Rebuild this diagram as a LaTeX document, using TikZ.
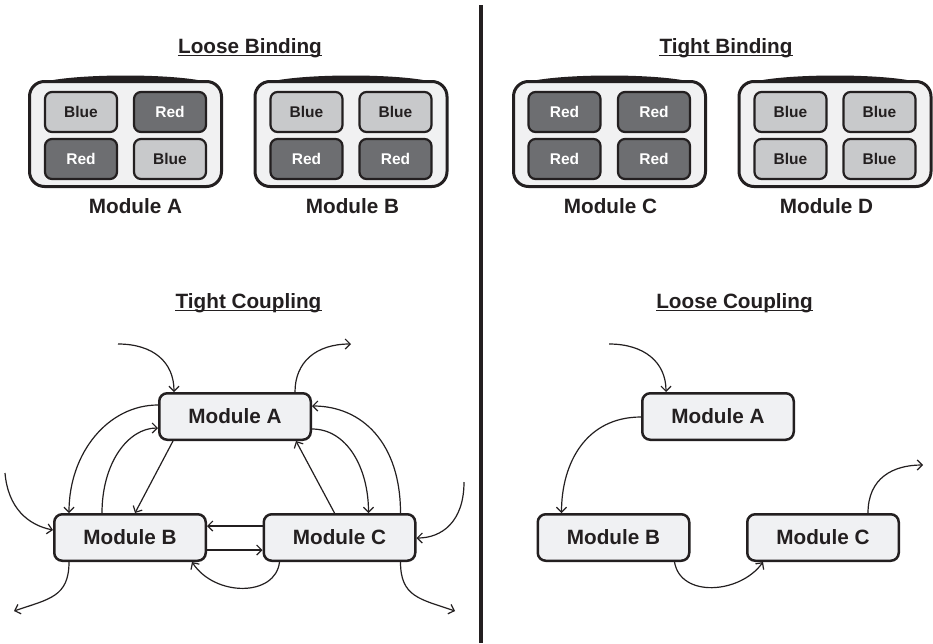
\documentclass[tikz,border=0pt]{standalone}
\usepackage{fontspec}
\setmainfont{Liberation Sans}
\usetikzlibrary{arrows.meta,calc}

\definecolor{ink}{HTML}{231F20}
\definecolor{bluecell}{HTML}{C8C9CB}
\definecolor{redcell}{HTML}{6D6E71}
\definecolor{trayfill}{HTML}{F1F1F2}
\definecolor{modfill}{HTML}{F0F1F3}

% A tray: rounded box with a heavier bowed top edge and a caption below
\newcommand\trayunit[4]{%
  \node[trayshape] (#1) at (#2,134) {};
  \fill[ink] ($(#1.north)+(-80,1.5)$) .. controls +(35,-8) and +(-35,-8) .. ($(#1.north)+(80,1.5)$) -- cycle;
  \node[big, anchor=base] (#1-label) at (#3,213) {#4};
}

\begin{document}
\begin{tikzpicture}[x=1pt,y=-1pt,
  big/.style={font=\fontsize{20.7}{24}\selectfont\bfseries, text=ink},
  smalltxt/.style={font=\fontsize{15.5}{18}\selectfont\bfseries},
  trayshape/.style={draw=ink, line width=3pt, fill=trayfill, rounded corners=15pt,
    minimum width=192pt, minimum height=105pt, inner sep=0pt},
  cellbox/.style={draw=ink, line width=2.2pt, rounded corners=7pt, smalltxt,
    minimum width=72pt, minimum height=40pt, inner sep=0pt},
  bcell/.style={cellbox, fill=bluecell, text=ink},
  rcell/.style={cellbox, fill=redcell, text=white},
  title/.style={big, anchor=base, inner sep=0pt},
  uline/.style={draw=ink, line width=1.4pt},
  modbox/.style={big, draw=ink, line width=2.5pt, fill=modfill, rounded corners=8pt,
    minimum width=151.5pt, minimum height=46.5pt, inner sep=0pt},
  conn/.style={draw=ink, line width=1.2pt, -{Straight Barb[length=5pt,width=10pt]}}
]
\fill[white] (0,0) rectangle (933,643);
\useasboundingbox (0,0) rectangle (933,643);

% divider between the two halves
\coordinate (divtop) at (480.5,5);
\coordinate (divbot) at (480.5,643);
\draw[ink, line width=4pt] (divtop) -- (divbot);

% headings
\node[title] (hLB) at (250,53) {Loose Binding};
\node[title] (hTB) at (726,53) {Tight Binding};
\node[title] (hTC) at (248.5,308) {Tight Coupling};
\node[title] (hLC) at (734.5,308) {Loose Coupling};
\foreach \h in {hLB,hTB,hTC,hLC}
  \draw[uline] ($(\h.base west)+(0,2.5)$) -- ($(\h.base east)+(0,2.5)$);

% binding trays
\trayunit{trayA}{125.5}{135.5}{Module A}
\trayunit{trayB}{351}{352.5}{Module B}
\trayunit{trayC}{609.5}{610.5}{Module C}
\trayunit{trayD}{835}{826.5}{Module D}

\node[bcell] (a11) at (81,112) {Blue};
\node[rcell] (a12) at (170,112) {Red};
\node[rcell] (a21) at (81,159) {Red};
\node[bcell] (a22) at (170,159) {Blue};

\node[bcell] (b11) at (306.5,112) {Blue};
\node[bcell] (b12) at (395.5,112) {Blue};
\node[rcell] (b21) at (306.5,159) {Red};
\node[rcell] (b22) at (395.5,159) {Red};

\node[rcell] (c11) at (564.5,112) {Red};
\node[rcell] (c12) at (654,112) {Red};
\node[rcell] (c21) at (564.5,159) {Red};
\node[rcell] (c22) at (654,159) {Red};

\node[bcell] (d11) at (790.5,112) {Blue};
\node[bcell] (d12) at (879.5,112) {Blue};
\node[bcell] (d21) at (790.5,159) {Blue};
\node[bcell] (d22) at (879.5,159) {Blue};

% tight coupling
\node[modbox] (tA) at (235,416.5) {Module A};
\node[modbox] (tB) at (130,537.5) {Module B};
\node[modbox] (tC) at (339.5,537.5) {Module C};

\coordinate (tin1) at (118,344);
\coordinate (tout1) at (351,344);
\coordinate (tin2) at (5,473);
\coordinate (tout2) at (14,611);
\coordinate (tin3) at (464,482);
\coordinate (tout3) at (455,611);

\draw[conn] (tin1) .. controls +(35,0) and +(0,-30) .. ($(tA.north west)+(16,0)$);
\draw[conn] ($(tA.north west)+(137,0)$) .. controls +(0,-30) and +(-35,0) .. (tout1);
\draw[conn] ($(tA.north west)+(0,13)$) .. controls +(-50,0) and +(0,-60) .. ($(tB.north west)+(16,0)$);
\draw[conn] ($(tB.north west)+(49,0)$) .. controls +(0,-50) and +(-30,0) .. ($(tA.north west)+(0,36)$);
\draw[conn] ($(tA.south west)+(15,0)$) -- ($(tB.north west)+(82,0)$);
\draw[conn] ($(tC.north west)+(72,0)$) -- ($(tA.south west)+(138,0)$);
\draw[conn] ($(tA.north east)+(0,37)$) .. controls +(35,0) and +(0,-45) .. ($(tC.north west)+(106,0)$);
\draw[conn] ($(tC.north west)+(138,0)$) .. controls +(0,-70) and +(50,0) .. ($(tA.north east)+(0,14)$);
\draw[conn] ($(tC.north west)+(0,13)$) -- ($(tB.north east)+(0,13)$);
\draw[conn] ($(tB.north east)+(0,37)$) -- ($(tC.north west)+(0,37)$);
\draw[conn] ($(tC.south west)+(17,0)$) .. controls +(-4,35) and +(23,35) .. ($(tB.south east)+(-15,0)$);
\draw[conn] (tin2) .. controls +(3,35) and +(-25,-5) .. ($(tB.north west)+(0,17)$);
\draw[conn] ($(tB.south west)+(16,0)$) .. controls +(0,35) and +(35,-12) .. (tout2);
\draw[conn] (tin3) .. controls +(0,40) and +(25,0) .. ($(tC.north east)+(0,25)$);
\draw[conn] ($(tC.south west)+(138,0)$) .. controls +(0,35) and +(-35,-12) .. (tout3);

% loose coupling
\node[modbox] (lA) at (718,416.5) {Module A};
\node[modbox] (lB) at (613.5,537.5) {Module B};
\node[modbox] (lC) at (823,537.5) {Module C};

\coordinate (lin1) at (609,344);
\coordinate (lout1) at (923,465);

\draw[conn] (lin1) .. controls +(35,0) and +(0,-30) .. ($(lA.north west)+(25,0)$);
\draw[conn] ($(lA.north west)+(0,25)$) .. controls +(-55,0) and +(0,-50) .. ($(lB.north west)+(25,0)$);
\draw[conn] ($(lB.south west)+(138,0)$) .. controls +(6,36) and +(-23,32) .. ($(lC.south west)+(17,0)$);
\draw[conn] ($(lC.north west)+(122,0)$) .. controls +(0,-35) and +(-30,0) .. (lout1);
\end{tikzpicture}
\end{document}
